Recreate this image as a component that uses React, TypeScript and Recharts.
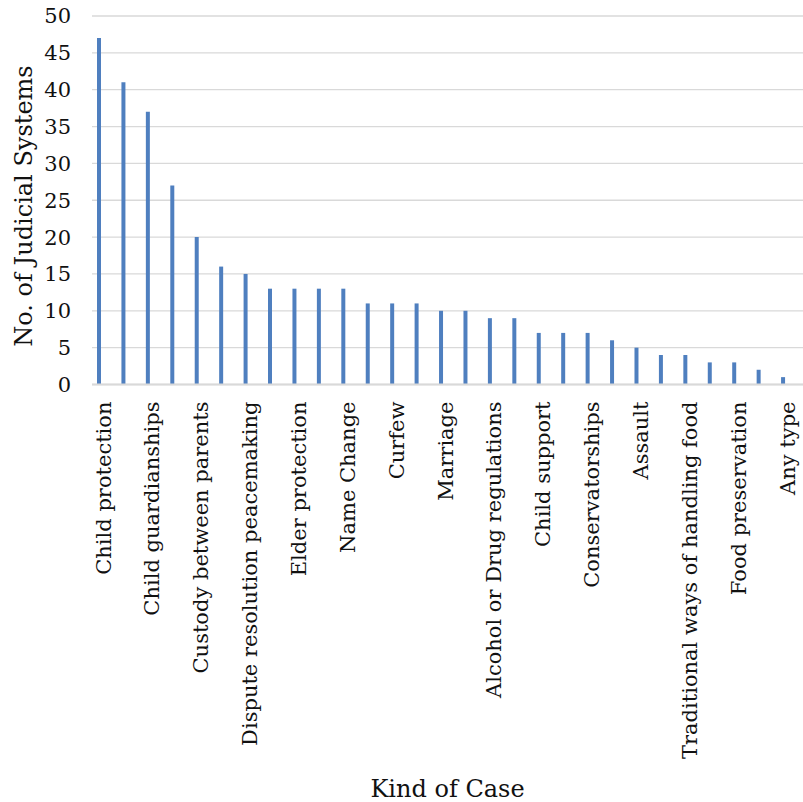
import React from "react";
import { BarChart, Bar, XAxis, YAxis, CartesianGrid, Label } from "recharts";

// Kinds of case handled, in descending order of how many judicial systems hear them.
// Only every other category carries a printed label on the axis.
const categories = [
  "Child protection", "",
  "Child guardianships", "",
  "Custody between parents", "",
  "Dispute resolution peacemaking", "",
  "Elder protection", "",
  "Name Change", "",
  "Curfew", "",
  "Marriage", "",
  "Alcohol or Drug regulations", "",
  "Child support", "",
  "Conservatorships", "",
  "Assault", "",
  "Traditional ways of handling food", "",
  "Food preservation", "",
  "Any type",
];

const systemCounts = [
  47, 41, 37, 27, 20, 16, 15, 13, 13, 13, 13, 11, 11, 11, 10,
  10, 9, 9, 7, 7, 7, 6, 5, 4, 4, 3, 3, 2, 1,
];

const yTicks = [0, 5, 10, 15, 20, 25, 30, 35, 40, 45, 50];

const data = categories.map((name, i) => ({ name, count: systemCounts[i] }));

const FONT = "'DejaVu Serif', serif";
const TEXT = "#111";

const CaseTick = (props: any) => {
  const { x, y, payload } = props;
  if (!payload || !payload.value) return null;
  return (
    <text
      transform={`translate(${x + 4},${y + 17}) rotate(-90)`}
      textAnchor="end"
      dy="0.35em"
      fontFamily={FONT}
      fontSize={21}
      fill={TEXT}
    >
      {payload.value}
    </text>
  );
};

export default function App() {
  return (
    <div style={{ position: "absolute", left: 0, top: 0, background: "#fff" }}>
      <BarChart
        width={803}
        height={802}
        data={data}
        margin={{ top: 16, right: 0, bottom: 0, left: 0 }}
        barCategoryGap={0}
      >
        <CartesianGrid vertical={false} stroke="#d9d9d9" strokeWidth={1.3} />
        <XAxis
          dataKey="name"
          height={417.5}
          interval={1}
          tickLine={false}
          tickSize={0}
          tickMargin={0}
          padding={{ left: -5, right: 7.5 }}
          axisLine={{ stroke: "#d9d9d9", strokeWidth: 2 }}
          tick={<CaseTick />}
        >
          <Label
            content={() => (
              <text
                x={447.5}
                y={797}
                textAnchor="middle"
                fontFamily={FONT}
                fontSize={24}
                fill={TEXT}
              >
                Kind of Case
              </text>
            )}
          />
        </XAxis>
        <YAxis
          width={92}
          domain={[0, 50]}
          ticks={yTicks}
          interval={0}
          axisLine={false}
          tickLine={false}
          tickSize={0}
          tickMargin={21}
          tick={{ fontFamily: FONT, fontSize: 21, fill: TEXT }}
        >
          <Label
            content={() => (
              <text
                transform="translate(32,206) rotate(-90)"
                textAnchor="middle"
                fontFamily={FONT}
                fontSize={24}
                fill={TEXT}
              >
                No. of Judicial Systems
              </text>
            )}
          />
        </YAxis>
        <Bar dataKey="count" fill="#4F7FBF" barSize={4} isAnimationActive={false} />
      </BarChart>
    </div>
  );
}
